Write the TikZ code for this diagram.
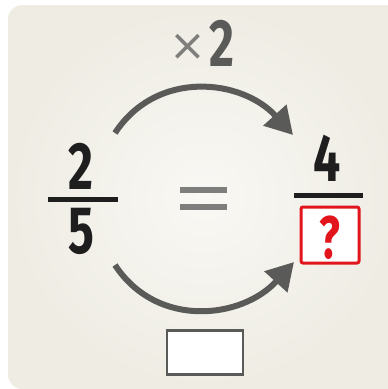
\documentclass[tikz,border=0pt]{standalone}
\usepackage{fontspec}
\usetikzlibrary{arrows.meta}
\newfontfamily\digitfont[FakeStretch=0.72]{Fira Sans}
\newfontfamily\symfont{DejaVu Sans}
\definecolor{bgedge}{HTML}{EEECE3}
\definecolor{bgmid}{HTML}{F9F8F4}
\definecolor{arrowgray}{HTML}{5A5A58}
\definecolor{lightgray}{HTML}{7E7E7C}
\definecolor{inkblack}{HTML}{1E1E1E}
\definecolor{qred}{HTML}{E2141C}
\tikzset{
  digit/.style={inner sep=0pt, text height=38pt, text depth=0pt, font=\digitfont\bfseries\fontsize{67}{67}\selectfont, text=inkblack},
  qmark/.style={inner sep=0pt, font=\digitfont\bfseries\fontsize{60}{60}\selectfont, text=qred},
  curvearrow/.style={line width=6pt, draw=arrowgray, -{Triangle[length=27pt,width=30pt]}},
  fracbar/.style={line width=5pt, draw=inkblack},
  eqbar/.style={line width=6pt, draw=lightgray},
}
\begin{document}
\begin{tikzpicture}[x=1pt,y=-1pt]
\useasboundingbox (0,0) rectangle (388,389);
\shade[inner color=bgmid, outer color=bgedge, rounded corners=14pt] (8,5) rectangle (400,389);
% top label
\node[inner sep=0pt, text=lightgray, font=\symfont\fontsize{44}{44}\selectfont] (times) at (188,47) {×};
\node[digit, text=arrowgray] (two) at (222,47) {2};
% left fraction
\node[digit] (n1) at (81,170) {2};
\node[digit] (d1) at (81,234) {5};
\coordinate (b1l) at (48,199.5);
\coordinate (b1r) at (118,199.5);
\draw[fracbar] (b1l) -- (b1r);
% equals
\coordinate (e1l) at (180,190); \coordinate (e1r) at (227,190);
\coordinate (e2l) at (180,207); \coordinate (e2r) at (227,207);
\draw[eqbar] (e1l) -- (e1r);
\draw[eqbar] (e2l) -- (e2r);
% right fraction
\node[digit] (n2) at (327,162) {4};
\coordinate (b2l) at (294,195.5);
\coordinate (b2r) at (363,195.5);
\draw[fracbar] (b2l) -- (b2r);
\node[draw=qred, line width=3pt, rounded corners=2pt, fill=white, minimum width=58pt, minimum height=56pt, inner sep=0pt] (qbox) at (330,235) {};
\node[qmark, yshift=-3pt] (q) at (qbox.center) {?};
% arrows
\coordinate (s1) at (115,133);
\coordinate (t1) at (293,135);
\draw[curvearrow] (s1) .. controls (157,69) and (242,79) .. (t1);
\coordinate (s2) at (115,265);
\coordinate (t2) at (294,262);
\draw[curvearrow] (s2) .. controls (157,329) and (242,319) .. (t2);
% empty box
\node[draw=arrowgray, line width=2.2pt, fill=white, minimum width=76pt, minimum height=44pt, inner sep=0pt] (blank) at (205,352.5) {};
\end{tikzpicture}
\end{document}
